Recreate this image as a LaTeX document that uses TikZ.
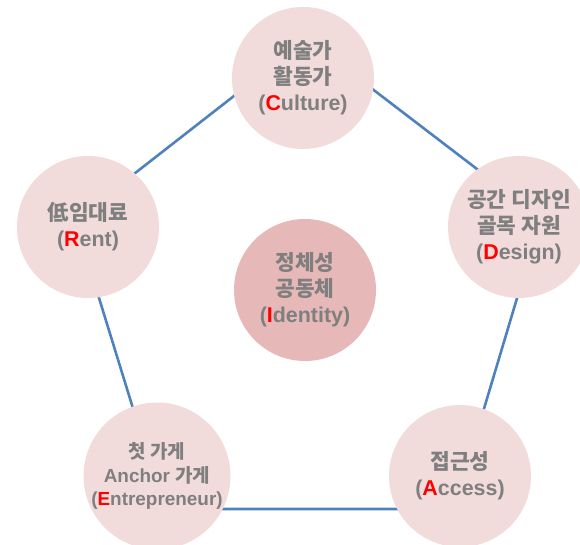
\documentclass[tikz,border=0pt]{standalone}
\usepackage{fontspec}
\setmainfont{Liberation Sans}
\newfontfamily\hangul{Noto Sans CJK KR}
\usepackage{tikz}
\usetikzlibrary{arrows,positioning}

\definecolor{bubblefill}{HTML}{F2DCDB}
\definecolor{corefill}{HTML}{E6B9B8}
\definecolor{linkblue}{HTML}{4F81BD}
\definecolor{labelgray}{HTML}{7F7F7F}
\definecolor{keyred}{HTML}{FF0000}
\newcommand{\kw}[1]{\textcolor{keyred}{#1}}

\begin{document}
\begin{tikzpicture}[line join=bevel,
  bubble/.style={circle,fill=bubblefill,minimum size=142bp,inner sep=0pt,
    align=center,text=labelgray,font=\bfseries\fontsize{21.5}{26}\selectfont},
  core/.style={bubble,fill=corefill},
  link/.style={draw=linkblue,line width=2.6bp}]
\useasboundingbox (0bp,0bp) rectangle (580bp,545bp);
%% pentagon behind the circles
\coordinate (pt) at (307bp,506bp);
\coordinate (pr) at (541bp,327bp);
\coordinate (pbr) at (454bp,36bp);
\coordinate (pbl) at (164bp,36bp);
\coordinate (pl) at (75bp,325bp);
\draw [link] (pt) -- (pr) -- (pbr) -- (pbl) -- (pl) -- cycle;
%
\node (culture) at (303bp,467bp) [bubble] {{\hangul 예술가}\\{\hangul 활동가}\\(\kw{C}ulture)};
\node (rent) at (88bp,318bp) [bubble] {{\hangul 低임대료}\\(\kw{R}ent)};
\node (design) at (519bp,318bp) [bubble] {{\hangul 공간 디자인}\\{\hangul 골목 자원}\\(\kw{D}esign)};
\node (entre) at (157bp,69bp) [bubble,font=\bfseries\fontsize{19}{23.5}\selectfont] {{\hangul 첫 가게}\\Anchor {\hangul 가게}\\(\kw{E}ntrepreneur)};
\node (access) at (460bp,69bp) [bubble] {{\hangul 접근성}\\(\kw{A}ccess)};
\node (identity) at (305bp,255bp) [core] {{\hangul 정체성}\\{\hangul 공동체}\\(\kw{I}dentity)};
%
\end{tikzpicture}
\end{document}
